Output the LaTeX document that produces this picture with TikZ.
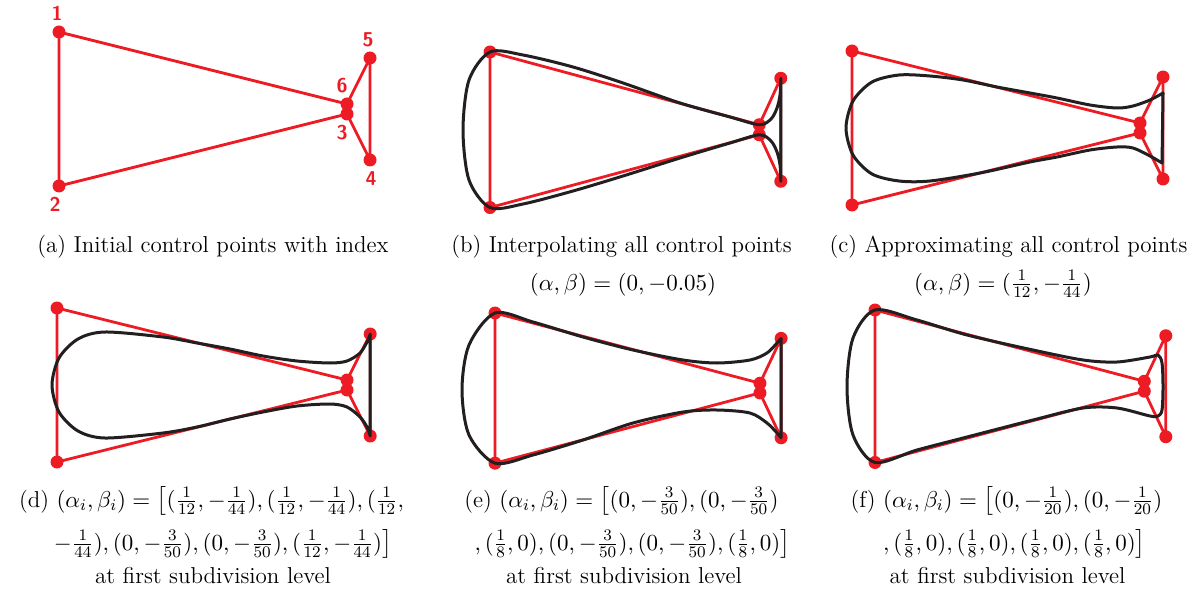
\RequirePackage{fix-cm}
\documentclass[tikz,border=0pt]{standalone}
\usepackage{amsmath}
\usetikzlibrary{positioning}
\definecolor{ctrlred}{RGB}{237,28,36}
\definecolor{curveblk}{RGB}{35,31,32}
\begin{document}
\begin{tikzpicture}[x=0.5pt,y=-0.5pt,line join=round,line cap=round]
  \tikzset{
    cpt/.style={circle,fill=ctrlred,inner sep=0pt,minimum size=6.5pt},
    ctrl/.style={ctrlred,line width=1.4pt},
    limcurve/.style={curveblk,line width=1.5pt},
    idx/.style={text=ctrlred,font=\sffamily\bfseries,inner sep=0pt},
    captext/.style={anchor=base,inner sep=0pt,font=\fontsize{11.5}{14}\selectfont},
    ctrlpoly/.pic={
      \foreach \k/\px/\py in {1/0/0,2/0/154,3/288/82,4/311/128,5/311/26,6/288/72}
        \node[cpt] (-\k) at (\px,\py) {};
      \draw[ctrl] (-1.center) -- (-2.center) -- (-3.center) -- (-4.center)
        -- (-5.center) -- (-6.center) -- cycle;
    }
  }
  \useasboundingbox (0,0) rectangle (1197,593);
  % control polygons
  \pic (a) at (59,32) {ctrlpoly};
  \pic[xscale=0.935,yscale=1.01] (b) at (490,52) {ctrlpoly};
  \pic (c) at (852,51) {ctrlpoly};
  \pic[xscale=1.007] (d) at (57,308) {ctrlpoly};
  \pic[xscale=0.92,yscale=0.975] (e) at (495,313) {ctrlpoly};
  \pic[xscale=0.935,yscale=0.99] (f) at (875,310) {ctrlpoly};
  % indices
  \node[idx, above=2pt of a-1, xshift=-1pt] (n1) {1};
  \node[idx, below=2pt of a-2, xshift=-2pt] (n2) {2};
  \node[idx, below=2pt of a-3, xshift=-2.5pt] (n3) {3};
  \node[idx, below=2pt of a-4, xshift=0.5pt] (n4) {4};
  \node[idx, above=2pt of a-5, xshift=-1pt] (n5) {5};
  \node[idx, above=2pt of a-6, xshift=-2.5pt] (n6) {6};
  % limit curves
  \draw[limcurve] plot[smooth] coordinates {(b-5.center) (780,95) (777,108)
    (771,119) (b-6.center) (730,117) (680,103) (623,83) (573,67) (523,55)
    (b-1.center) (469,80) (463,130) (469,180)
    (b-2.center) (523,204) (573,191) (623,176) (680,158) (730,143)
    (b-3.center) (771,141) (777,152) (780,165) (b-4.center)} -- cycle;
  \draw[limcurve] plot[smooth] coordinates {(1163,93) (1150,100) (1133,106)
    (1117,108) (1090,105) (1057,98) (1030,93) (997,87) (963,80) (930,76)
    (899,75) (872,82) (853,101) (846,128) (853,155) (872,174)
    (899,181) (930,181) (980,173) (1030,162) (1057,157) (1090,150)
    (1117,147) (1133,148) (1150,156) (1162,163)} -- cycle;
  \draw[limcurve] plot[smooth] coordinates {(d-5.center) (367,342) (360,353)
    (347,361) (330,363) (297,361) (263,356) (230,349) (197,343) (163,337)
    (105,332) (78,339) (59,358) (52,385) (59,412) (78,431) (105,438)
    (163,433) (197,427) (230,419) (263,412) (297,406) (330,404) (347,407)
    (360,417) (367,427) (d-4.center)} -- cycle;
  \draw[limcurve] plot[smooth] coordinates {(e-5.center) (777,343) (767,353)
    (750,360) (717,363) (683,360) (633,350) (583,337) (533,322)
    (e-1.center) (469,345) (462,390) (469,435)
    (e-2.center) (533,455) (583,440) (633,423) (683,412) (717,410)
    (750,413) (767,423) (777,433) (e-4.center)} -- cycle;
  \draw[limcurve] plot[smooth cycle] coordinates {(f-1.center) (917,320)
    (967,335) (1033,350) (1083,360) (1117,362) (1150,357) (1158,355)
    (1162,363) (1163,387) (1162,410) (1158,416) (1150,416) (1117,408)
    (1083,408) (1033,420) (967,437) (917,450) (f-2.center)
    (853,435) (847,387) (853,338)};
  % captions
  \node[captext] (capa) at (213,252) {(a) Initial control points with index};
  \node[captext] (capb) at (621.5,252) {(b) Interpolating all control points};
  \node[captext] (parb) at (623,290) {$(\alpha,\beta)=(0,-0.05)$};
  \node[captext] (capc) at (1008.5,252) {(c) Approximating all control points};
  \node[captext] (parc) at (1003,290) {$(\alpha,\beta)=(\frac{1}{12},-\frac{1}{44})$};
  \node[captext] (capd1) at (211.5,507) {(d) $(\alpha_i,\beta_i)=\big[(\frac{1}{12},-\frac{1}{44}),(\frac{1}{12},-\frac{1}{44}),(\frac{1}{12},$};
  \node[captext] (capd2) at (223,550) {$-\frac{1}{44}),(0,-\frac{3}{50}),(0,-\frac{3}{50}),(\frac{1}{12},-\frac{1}{44})\big]$};
  \node[captext] (capd3) at (213,583) {at first subdivision level};
  \node[captext] (cape1) at (621.5,507) {(e) $(\alpha_i,\beta_i)=\big[(0,-\frac{3}{50}),(0,-\frac{3}{50})$};
  \node[captext] (cape2) at (632.5,550) {$,(\frac{1}{8},0),(0,-\frac{3}{50}),(0,-\frac{3}{50}),(\frac{1}{8},0)\big]$};
  \node[captext] (cape3) at (624,583) {at first subdivision level};
  \node[captext] (capf1) at (1006.5,507) {(f) $(\alpha_i,\beta_i)=\big[(0,-\frac{1}{20}),(0,-\frac{1}{20})$};
  \node[captext] (capf2) at (1014.5,550) {$,(\frac{1}{8},0),(\frac{1}{8},0),(\frac{1}{8},0),(\frac{1}{8},0)\big]$};
  \node[captext] (capf3) at (1007.5,583) {at first subdivision level};
\end{tikzpicture}
\end{document}
